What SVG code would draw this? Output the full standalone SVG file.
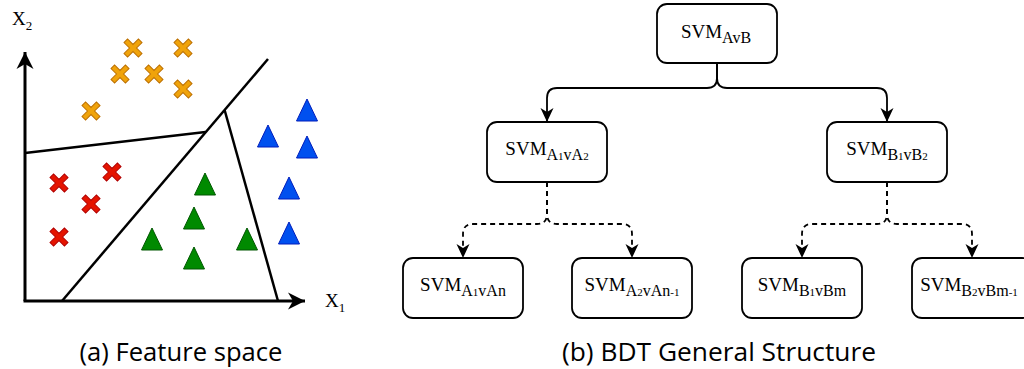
<svg xmlns="http://www.w3.org/2000/svg" width="1024" height="369" viewBox="0 0 1024 369">
  <style>
    .axis { stroke: #000; stroke-width: 3; fill: none; }
    .sep { stroke: #000; stroke-width: 2.5; fill: none; stroke-linecap: butt; }
    .orange { fill: #f0a30a; stroke: #bd7000; stroke-width: 1; }
    .red { fill: #e51400; stroke: #b20000; stroke-width: 1; }
    .green { fill: #008a00; stroke: #005700; stroke-width: 1; }
    .blue { fill: #0050ef; stroke: #001dbc; stroke-width: 1; }
    .axlbl { font-family: "Liberation Serif", "DejaVu Serif", serif; font-size: 19px; fill: #000; }
    .axsub { font-size: 13px; }
    .box { fill: #fff; stroke: #000; stroke-width: 1.8; }
    .lbl { font-family: "Liberation Serif", "DejaVu Serif", serif; font-size: 19px; fill: #000; text-anchor: middle; }
    .sub { font-size: 16px; }
    .d { font-size: 11px; }
    .edge { stroke: #000; stroke-width: 1.8; fill: none; }
    .dash { stroke-dasharray: 5 4; }
    .cap { font-family: "Open Sans", "Noto Sans", sans-serif; font-size: 25px; fill: #000; text-anchor: middle; }
  </style>
  <defs>
    <marker id="arr" markerUnits="userSpaceOnUse" markerWidth="15" markerHeight="14" viewBox="0 0 15 14" refX="14" refY="7" orient="auto">
      <path d="M0,0.5 L14,7 L0,13.5 L4,7 Z" fill="#000"/>
    </marker>
    <marker id="axarr" markerUnits="userSpaceOnUse" markerWidth="18" markerHeight="18" viewBox="0 0 18 18" refX="17" refY="9" orient="auto">
      <path d="M0,0.5 L17,9 L0,17.5 L5,9 Z" fill="#000"/>
    </marker>
    <!-- diagonal cross marker, centred on 0,0 -->
    <path id="cross" d="M2.5,-10.2 L2.5,-2.5 L10.2,-2.5 L10.2,2.5 L2.5,2.5 L2.5,10.2 L-2.5,10.2 L-2.5,2.5 L-10.2,2.5 L-10.2,-2.5 L-2.5,-2.5 L-2.5,-10.2 Z" transform="rotate(45)"/>
    <!-- triangle marker, apex at 0,0 -->
    <path id="tri" d="M0,0 L10.5,22 L-10.5,22 Z"/>
  </defs>

  <!-- (a) feature space -->
  <g id="feature-space">
    <g id="axes">
      <path class="axis" d="M25,301 V52" marker-end="url(#axarr)"/>
      <path class="axis" d="M23.5,301 H305" marker-end="url(#axarr)"/>
      <text class="axlbl" x="12" y="25">X<tspan class="axsub" dy="5">2</tspan></text>
      <text class="axlbl" x="325" y="307">X<tspan class="axsub" dy="5">1</tspan></text>
    </g>
    <g id="boundaries">
      <line class="sep" x1="62" y1="301" x2="268" y2="59"/>
      <line class="sep" x1="25" y1="153" x2="205.5" y2="132"/>
      <line class="sep" x1="224.6" y1="110" x2="278" y2="301"/>
    </g>
    <g id="class-orange" class="orange">
      <use href="#cross" x="133" y="48"/>
      <use href="#cross" x="183" y="48"/>
      <use href="#cross" x="120" y="74"/>
      <use href="#cross" x="154" y="74"/>
      <use href="#cross" x="183" y="89"/>
      <use href="#cross" x="91" y="111"/>
    </g>
    <g id="class-red" class="red">
      <use href="#cross" x="59" y="183"/>
      <use href="#cross" x="112" y="172"/>
      <use href="#cross" x="91" y="204"/>
      <use href="#cross" x="59" y="237"/>
    </g>
    <g id="class-green" class="green">
      <use href="#tri" x="205" y="173"/>
      <use href="#tri" x="194" y="207"/>
      <use href="#tri" x="152" y="228"/>
      <use href="#tri" x="247" y="228"/>
      <use href="#tri" x="194" y="247"/>
    </g>
    <g id="class-blue" class="blue">
      <use href="#tri" x="307" y="99"/>
      <use href="#tri" x="268" y="125"/>
      <use href="#tri" x="307" y="136"/>
      <use href="#tri" x="289" y="177"/>
      <use href="#tri" x="289" y="222"/>
    </g>
  </g>

  <!-- (b) binary decision tree -->
  <g id="connectors">
    <path class="edge" d="M717,63 V78 Q717,88 707,88 H557 Q547,88 547,98 V122" marker-end="url(#arr)"/>
    <path class="edge" d="M717,63 V78 Q717,88 727,88 H877 Q887,88 887,98 V122" marker-end="url(#arr)"/>
    <path class="edge dash" d="M547,182 V214 Q547,224 537,224 H473 Q463,224 463,234 V258" marker-end="url(#arr)"/>
    <path class="edge dash" d="M547,182 V214 Q547,224 557,224 H622 Q632,224 632,234 V258" marker-end="url(#arr)"/>
    <path class="edge dash" d="M887,182 V214 Q887,224 877,224 H812 Q802,224 802,234 V258" marker-end="url(#arr)"/>
    <path class="edge dash" d="M887,182 V214 Q887,224 897,224 H962 Q972,224 972,234 V258" marker-end="url(#arr)"/>
  </g>

  <g id="svm-AvB">
    <rect class="box" x="657" y="4" width="120" height="59" rx="10"/>
    <text class="lbl" x="716" y="38">SVM<tspan class="sub" dy="5">AvB</tspan></text>
  </g>
  <g id="svm-A1vA2">
    <rect class="box" x="487" y="122" width="120" height="60" rx="10"/>
    <text class="lbl" x="547" y="155">SVM<tspan class="sub" dy="5">A<tspan class="d">1</tspan>vA<tspan class="d">2</tspan></tspan></text>
  </g>
  <g id="svm-B1vB2">
    <rect class="box" x="827" y="122" width="120" height="60" rx="10"/>
    <text class="lbl" x="887" y="155">SVM<tspan class="sub" dy="5">B<tspan class="d">1</tspan>vB<tspan class="d">2</tspan></tspan></text>
  </g>
  <g id="svm-A1vAn">
    <rect class="box" x="403" y="258" width="120" height="60" rx="10"/>
    <text class="lbl" x="463" y="291">SVM<tspan class="sub" dy="5">A<tspan class="d">1</tspan>vAn</tspan></text>
  </g>
  <g id="svm-A2vAn-1">
    <rect class="box" x="572" y="258" width="120" height="60" rx="10"/>
    <text class="lbl" x="632" y="291">SVM<tspan class="sub" dy="5">A<tspan class="d">2</tspan>vAn<tspan class="d">-1</tspan></tspan></text>
  </g>
  <g id="svm-B1vBm">
    <rect class="box" x="742" y="258" width="120" height="60" rx="10"/>
    <text class="lbl" x="802" y="291">SVM<tspan class="sub" dy="5">B<tspan class="d">1</tspan>vBm</tspan></text>
  </g>
  <g id="svm-B2vBm-1">
    <rect class="box" x="912" y="258" width="120" height="60" rx="10"/>
    <text class="lbl" x="969" y="291">SVM<tspan class="sub" dy="5">B<tspan class="d">2</tspan>vBm<tspan class="d">-1</tspan></tspan></text>
  </g>

  <g id="captions">
    <text class="cap" x="181" y="361" textLength="203" lengthAdjust="spacingAndGlyphs">(a) Feature space</text>
    <text class="cap" x="719" y="361" textLength="314" lengthAdjust="spacingAndGlyphs">(b) BDT General Structure</text>
  </g>
</svg>
